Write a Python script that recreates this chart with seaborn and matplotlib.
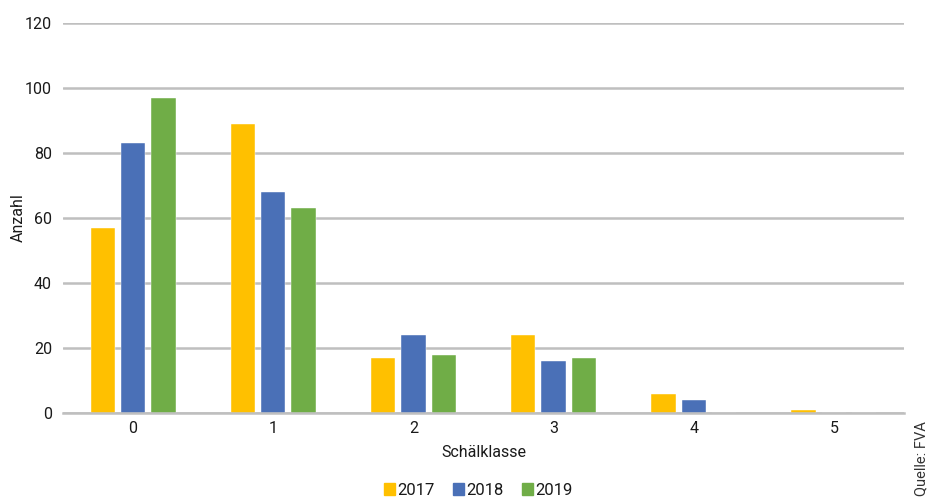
import matplotlib
matplotlib.use("Agg")
import matplotlib.pyplot as plt
import seaborn as sns
import pandas as pd

# Schälklassen and counts per survey year
classes = ["0", "1", "2", "3", "4", "5"]
years = ["2017", "2018", "2019"]
counts_2017 = [57, 89, 17, 24, 6, 0.8]
counts_2018 = [83, 68, 24, 16, 4, 0]
counts_2019 = [97, 63, 18, 17, 0, 0]
y_ticks = [0, 20, 40, 60, 80, 100, 120]

colors = {"2017": "#FFC000", "2018": "#4A70B7", "2019": "#70AD47"}

df = pd.DataFrame({
    "Schälklasse": classes * 3,
    "Jahr": [years[0]] * 6 + [years[1]] * 6 + [years[2]] * 6,
    "Anzahl": counts_2017 + counts_2018 + counts_2019,
})

sns.set_theme(style="white")
plt.rcParams["font.family"] = ["Roboto", "DejaVu Sans"]

fig = plt.figure(figsize=(9.28, 4.98), dpi=100)
ax = fig.add_axes([63 / 928, 1 - 413 / 498, (904 - 63) / 928, (413 - 23) / 498])

sns.barplot(data=df, x="Schälklasse", y="Anzahl", hue="Jahr", order=classes,
            hue_order=years, palette=colors, saturation=1, width=0.65, gap=0.2,
            edgecolor="white", linewidth=0.3, ax=ax, legend=False)

ax.set_ylim(0, 120)
ax.set_xlim(-0.5, 5.5)
ax.set_yticks(y_ticks)
ax.yaxis.grid(True, color="#BFBFBF", linewidth=1.8)
ax.set_axisbelow(True)
for side in ["top", "right", "left"]:
    ax.spines[side].set_visible(False)
ax.spines["bottom"].set_color("#BFBFBF")
ax.spines["bottom"].set_linewidth(1.8)
ax.tick_params(axis="both", length=0, labelsize=11.5, colors="#1a1a1a")
ax.tick_params(axis="y", pad=8)
ax.tick_params(axis="x", pad=6)

ax.set_xlabel("Schälklasse", fontsize=11.5, color="#1a1a1a", labelpad=6)
ax.set_ylabel("")
fig.text(18 / 928, 1 - 218 / 498, "Anzahl", rotation=90, fontsize=11.5,
         color="#1a1a1a", ha="center", va="center")

handles = [plt.Rectangle((0, 0), 1, 1, color=colors[y]) for y in years]
fig.legend(handles, years, loc="center", bbox_to_anchor=(478 / 928, 1 - 490 / 498),
           ncol=3, frameon=False, fontsize=12, handlelength=0.7, handleheight=0.7,
           handletextpad=0.1, columnspacing=1.1, labelcolor="#1a1a1a")

fig.text(921 / 928, 2 / 498, "Quelle: FVA", rotation=90, fontsize=10.5,
         color="#333333", ha="center", va="bottom")

fig.savefig("out.png", dpi=100)
